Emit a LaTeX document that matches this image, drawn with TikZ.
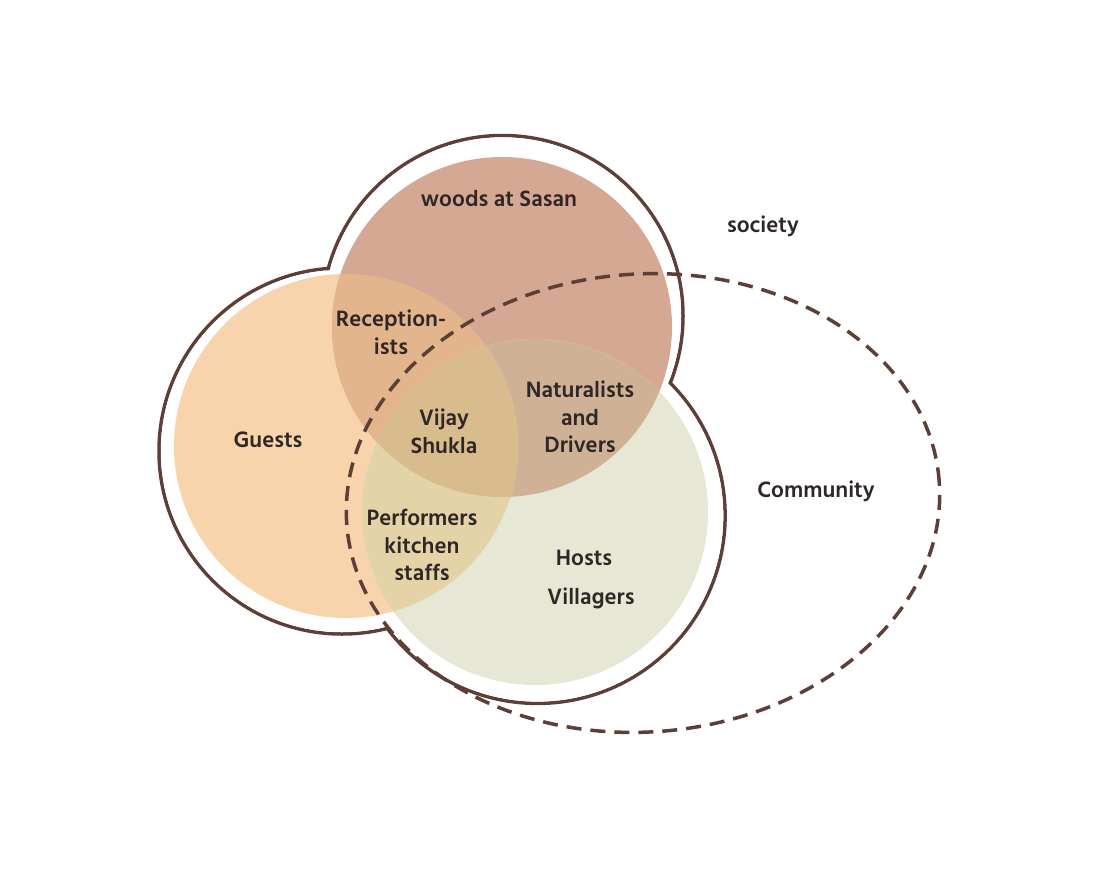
\documentclass[tikz,border=0pt]{standalone}
\usepackage{fontspec}
\setmainfont{Hind Siliguri}
\usetikzlibrary{shapes.geometric}
\definecolor{lineBrown}{HTML}{5E3F37}
\definecolor{txt}{HTML}{2F2626}
\definecolor{peach}{HTML}{F7D4AC}
\definecolor{rose}{HTML}{D5A893}
\definecolor{sage}{HTML}{E6E7D5}
\definecolor{pbcol}{HTML}{E2B58C}
\definecolor{pgcol}{HTML}{E3D3A7}
\definecolor{bgcol}{HTML}{CFB195}
\definecolor{pbgcol}{HTML}{D9BC8D}
\begin{document}
\begin{tikzpicture}[x=1pt,y=-1pt,
  outline/.style={draw=lineBrown, line width=3.5pt},
  lbl/.style={font=\bfseries\fontsize{22.8}{27.5}\selectfont, text=txt, align=center, inner sep=0pt}]
\fill[white] (0,0) rectangle (1114,879);
\useasboundingbox (0,0) rectangle (1114,879);
% centres
\coordinate (Po) at (342,451);
\coordinate (Bo) at (502.5,316);
\coordinate (Go) at (537.4,515.7);
\coordinate (Pc) at (346,446);
\coordinate (Bc) at (502,327);
\coordinate (Gc) at (535,512);
% society outline
\draw[outline] (Po) circle[radius=183pt];
\draw[outline] (Bo) circle[radius=180.5pt];
\draw[outline] (Go) circle[radius=187.7pt];
\fill[white] (Po) circle[radius=181.2pt];
\fill[white] (Bo) circle[radius=178.7pt];
\fill[white] (Go) circle[radius=185.9pt];
% circles
\fill[peach] (Pc) circle[radius=172pt];
\fill[rose] (Bc) circle[radius=170pt];
\fill[sage] (Gc) circle[radius=173pt];
\begin{scope}
  \clip (Bc) circle[radius=170pt];
  \fill[bgcol] (Gc) circle[radius=173pt];
\end{scope}
\begin{scope}
  \clip (Pc) circle[radius=172pt];
  \fill[pbcol] (Bc) circle[radius=170pt];
  \fill[pgcol] (Gc) circle[radius=173pt];
  \clip (Bc) circle[radius=170pt];
  \fill[pbgcol] (Gc) circle[radius=173pt];
\end{scope}
% community
\node[ellipse, draw=lineBrown, line width=3.5pt, dash pattern=on 15pt off 9pt,
      minimum width=594pt, minimum height=458pt, inner sep=0pt, rotate=4] (comm) at (643,503) {};
% labels
\node[lbl] (woods) at (499,199) {woods at Sasan};
\node[lbl] (society) at (763,226) {society};
\node[lbl] (recep) at (391,332) {Reception-\\ists};
\node[lbl] (vijay) at (444,431) {Vijay\\Shukla};
\node[lbl] (natur) at (580,417) {Naturalists\\and\\Drivers};
\node[lbl] (guests) at (268,440) {Guests};
\node[lbl] (community) at (816,491) {Community};
\node[lbl] (perf) at (422,545) {Performers\\kitchen\\staffs};
\node[lbl] (hosts) at (584,558) {Hosts};
\node[lbl] (vill) at (591,598) {Villagers};
\end{tikzpicture}
\end{document}
